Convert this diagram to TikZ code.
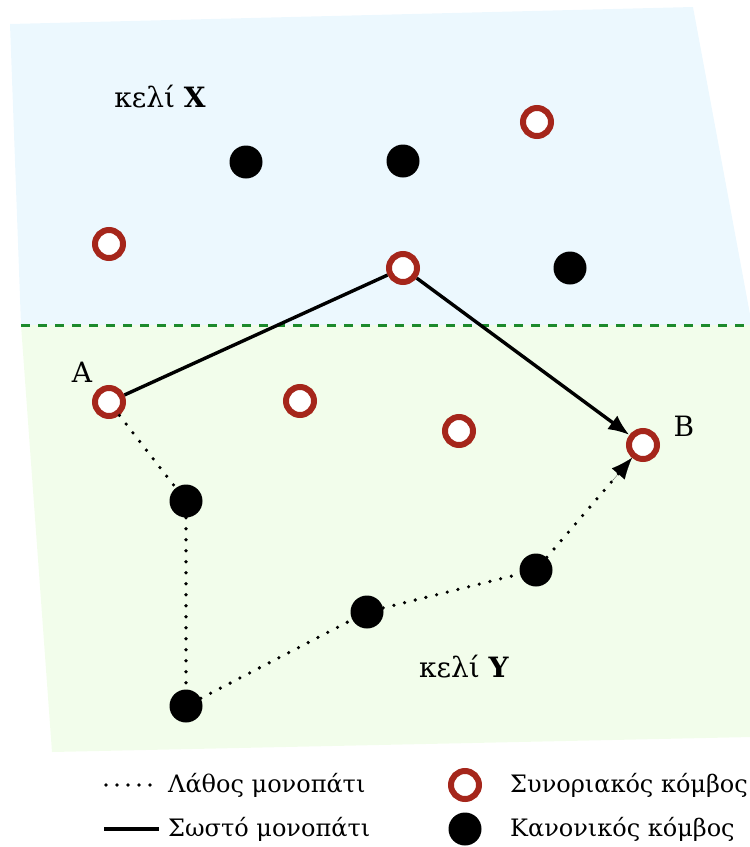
\documentclass[tikz,border=0pt]{standalone}
\usepackage{fontspec}
\setmainfont{DejaVu Serif}
\usetikzlibrary{arrows.meta}
\definecolor{cellX}{HTML}{ECF8FE}
\definecolor{cellY}{HTML}{F2FDEB}
\definecolor{ringred}{HTML}{A5261B}
\definecolor{splitgreen}{HTML}{1C8A2C}
\begin{document}
\begin{tikzpicture}[x=1pt,y=-1pt,
  bnode/.style={circle,draw=ringred,line width=6pt,fill=white,minimum size=28pt,inner sep=0pt},
  rnode/.style={circle,fill=black,minimum size=33pt,inner sep=0pt},
  okpath/.style={line width=3.4pt},
  badpath/.style={line width=3.6pt,line cap=round,dash pattern=on 0pt off 11pt},
  tip/.style={-{Latex[length=21pt,width=17pt]}},
  lbl/.style={font=\fontsize{28}{32}\selectfont},
  legend/.style={font=\fontsize{24}{28}\selectfont,anchor=west,inner sep=0pt}]
\useasboundingbox (0,0) rectangle (750,847);
% the two cells
\begin{scope}
\clip (0,0) rectangle (750,847);
\fill[cellX] (10,24) -- (693,7) -- (752,325) -- (21,325) -- cycle;
\fill[cellY] (21,325) -- (752,325) -- (752,737) -- (52,752) -- cycle;
\draw[splitgreen,line width=3pt,dash pattern=on 9pt off 8pt] (21,325) -- (752,325);
\end{scope}
% cell labels
\node[lbl] (cx) at (160,97) {κελί \textbf{X}};
\node[lbl] (cy) at (464,667) {κελί \textbf{Y}};
% boundary nodes
\node[bnode] (b1) at (537,122) {};
\node[bnode] (b2) at (109,244) {};
\node[bnode] (b3) at (403,268) {};
\node[bnode] (a)  at (109,402) {};
\node[bnode] (b5) at (300,401) {};
\node[bnode] (b6) at (459,431) {};
\node[bnode] (b)  at (643,445) {};
% regular nodes
\node[rnode] (r1) at (246,162) {};
\node[rnode] (r2) at (403,161) {};
\node[rnode] (r3) at (570,268) {};
\node[rnode] (r4) at (186,501) {};
\node[rnode] (r5) at (367,612) {};
\node[rnode] (r6) at (536,570) {};
\node[rnode] (r7) at (186,706) {};
% endpoint labels
\node[lbl] (la) at (82,372) {A};
\node[lbl] (lb) at (684,426) {B};
% correct path
\draw[okpath] (a) -- (b3);
\draw[okpath,tip] (b3) -- (b);
% wrong path
\draw[badpath] (a) -- (r4);
\draw[badpath] (r4) -- (r7);
\draw[badpath] (r7) -- (r5);
\draw[badpath] (r5) -- (r6);
\draw[badpath] (r6) -- (b);
\path (r6) -- (b) coordinate[pos=0.75] (tipbase);
\draw[line width=0.1pt,tip] (tipbase) -- (b);
% legend
\coordinate (d1) at (106,785);
\coordinate (d2) at (160,785);
\draw[badpath] (d1) -- (d2);
\node[legend] (t1) at (168,785) {Λάθος μονοπάτι};
\coordinate (s1) at (104,829);
\coordinate (s2) at (159,829);
\draw[okpath] (s1) -- (s2);
\node[legend] (t2) at (168,829) {Σωστό μονοπάτι};
\node[bnode] (kb) at (465,785) {};
\node[legend] (t3) at (510,785) {Συνοριακός κόμβος};
\node[rnode] (kr) at (465,829) {};
\node[legend] (t4) at (510,829) {Κανονικός κόμβος};
\end{tikzpicture}
\end{document}
